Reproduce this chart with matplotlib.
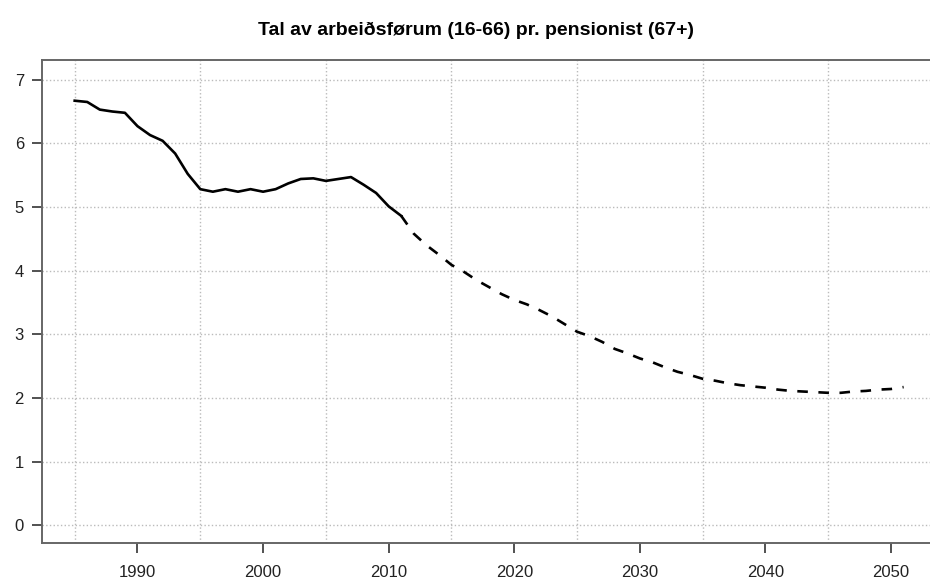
import matplotlib.pyplot as plt

plt.rcParams['font.family'] = ['Liberation Sans', 'DejaVu Sans']

# Historical values (solid line)
years_hist = list(range(1985, 2012))
ratio_hist = [6.67, 6.65, 6.53, 6.50, 6.48, 6.27, 6.13, 6.04, 5.84, 5.52,
              5.28, 5.24, 5.28, 5.24, 5.28, 5.24, 5.28, 5.37, 5.44, 5.45,
              5.41, 5.44, 5.47, 5.35, 5.22, 5.01, 4.86]

# Projection (dashed line)
years_proj = list(range(2011, 2052))
ratio_proj = [4.86, 4.58, 4.40, 4.25, 4.09, 3.98, 3.85, 3.74, 3.63, 3.54,
              3.47, 3.38, 3.28, 3.16, 3.04, 2.97, 2.88, 2.77, 2.70, 2.62,
              2.56, 2.48, 2.41, 2.36, 2.30, 2.27, 2.23, 2.20, 2.18, 2.16,
              2.13, 2.11, 2.10, 2.09, 2.08, 2.08, 2.10, 2.11, 2.13, 2.14,
              2.17]

major_years = [1990, 2000, 2010, 2020, 2030, 2040, 2050]
grid_years = list(range(1985, 2051, 5))
y_ticks = list(range(0, 8))

fig = plt.figure(figsize=(9.3, 5.8), dpi=100)
ax = fig.add_axes([0.0452, 0.0638, 0.9548, 0.8328])

ax.plot(years_hist, ratio_hist, color='black', lw=1.9, solid_joinstyle='round')
ax.plot(years_proj, ratio_proj, color='black', lw=1.9, ls=(0, (4.0, 4.0)))

ax.set_xticks(major_years)
ax.set_xticks(grid_years, minor=True)
ax.set_yticks(y_ticks)
ax.set_xlim(1982.4, 2053.1)
ax.set_ylim(-0.28, 7.31)

ax.tick_params(axis='both', which='major', length=7, width=1.1, color='#222222',
               labelsize=12, labelcolor='#222222')
ax.tick_params(axis='x', which='major', pad=9)
ax.tick_params(axis='y', which='major', pad=6)
ax.tick_params(axis='x', which='minor', length=0)

ax.grid(True, which='minor', axis='x', color='#bbbbbb', ls=':', lw=1)
ax.grid(True, which='major', axis='y', color='#bbbbbb', ls=':', lw=1)

for side in ['left', 'bottom', 'top']:
    ax.spines[side].set_color('#666666')
    ax.spines[side].set_linewidth(1.4)
ax.spines['right'].set_visible(False)

fig.text(476 / 930, 1 - 30 / 580, 'Tal av arbeiðsførum (16-66) pr. pensionist (67+)',
         ha='center', va='center', fontsize=14, fontweight='bold')

fig.savefig('out.png', dpi=100)
